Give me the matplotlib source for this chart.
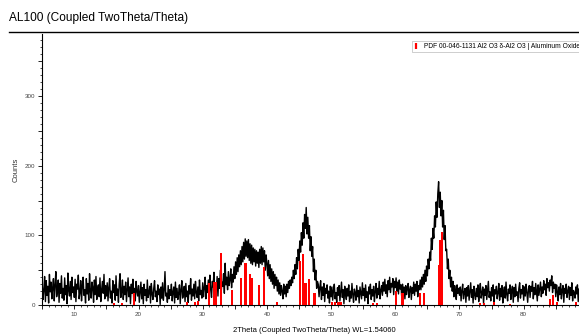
import matplotlib
matplotlib.use("Agg")
import matplotlib.pyplot as plt
from matplotlib.ticker import MultipleLocator, FuncFormatter
from matplotlib.lines import Line2D
import numpy as np

plt.rcParams['font.family'] = ['Liberation Sans', 'DejaVu Sans']

# scan starts at 5 deg 2theta, 8 readings per degree (0.125 deg step)
two_theta_start = 5.0
two_theta_step = 0.125
counts_rows = [
    [30, 8, 22, 41, 5, 35, 14, 27],      # 5
    [3, 44, 19, 33, 9, 25, 38, 6],
    [29, 48, 12, 20, 36, 4, 31, 17],
    [42, 10, 24, 7, 39, 15, 28, 2],
    [46, 21, 13, 34, 8, 40, 18, 26],
    [11, 37, 5, 30, 23, 43, 9, 18],      # 10
    [35, 6, 27, 40, 14, 22, 3, 38],
    [16, 31, 7, 45, 20, 10, 33, 26],
    [4, 36, 15, 41, 8, 24, 29, 12],
    [39, 5, 21, 34, 17, 44, 9, 28],
    [13, 32, 6, 25, 38, 10, 20, 3],      # 15
    [35, 18, 29, 7, 42, 14, 23, 4],
    [31, 45, 11, 19, 36, 8, 27, 15],
    [33, 5, 22, 39, 12, 26, 2, 30],
    [17, 37, 9, 24, 6, 34, 20, 13],
    [28, 4, 19, 33, 9, 25, 2, 30],       # 20
    [14, 22, 6, 36, 11, 18, 27, 3],
    [31, 16, 8, 24, 35, 12, 20, 5],
    [29, 15, 23, 1, 26, 10, 32, 7],
    [21, 48, 13, 17, 4, 28, 9, 22],
    [14, 30, 6, 19, 26, 3, 33, 11],      # 25
    [24, 8, 17, 29, 2, 22, 35, 10],
    [15, 27, 5, 31, 12, 20, 4, 28],
    [16, 38, 7, 23, 13, 30, 9, 34],
    [18, 11, 26, 6, 36, 15, 21, 10],
    [32, 12, 25, 40, 9, 28, 18, 36],     # 30
    [14, 43, 22, 11, 34, 26, 47, 16],
    [30, 20, 41, 13, 38, 24, 50, 18],
    [33, 27, 45, 17, 60, 29, 40, 22],
    [48, 28, 36, 52, 25, 44, 33, 55],
    [38, 62, 44, 68, 48, 72, 55, 78],    # 35
    [58, 84, 62, 90, 66, 95, 70, 92],
    [68, 94, 64, 88, 60, 86, 58, 82],
    [62, 80, 56, 78, 60, 76, 54, 80],
    [60, 84, 58, 82, 62, 78, 50, 72],
    [60, 42, 64, 38, 58, 34, 52, 30],    # 40
    [48, 24, 44, 28, 40, 20, 36, 16],
    [32, 14, 28, 20, 9, 30, 16, 27],
    [12, 30, 18, 34, 24, 36, 28, 40],
    [32, 50, 38, 58, 44, 68, 52, 80],
    [64, 92, 76, 104, 86, 118, 96, 130],   # 45
    [110, 140, 102, 126, 96, 114, 78, 98],
    [70, 84, 48, 66, 36, 50, 24, 34],
    [30, 12, 26, 35, 8, 26, 14, 31],
    [5, 24, 17, 29, 10, 20, 3, 27],
    [12, 26, 7, 21, 30, 9, 18, 4],       # 50
    [25, 14, 28, 6, 19, 33, 11, 22],
    [2, 27, 16, 8, 24, 13, 29, 5],
    [20, 10, 31, 15, 4, 23, 18, 7],
    [28, 12, 21, 3, 26, 17, 9, 32],
    [14, 24, 6, 29, 11, 19, 2, 26],      # 55
    [16, 30, 8, 22, 13, 27, 5, 20],
    [31, 10, 24, 15, 34, 9, 21, 28],
    [14, 33, 20, 37, 17, 29, 12, 35],
    [22, 40, 18, 31, 26, 38, 15, 34],
    [25, 39, 20, 33, 16, 36, 23, 29],    # 60
    [12, 30, 18, 26, 9, 28, 15, 24],
    [31, 11, 22, 27, 8, 25, 17, 33],
    [14, 30, 20, 34, 12, 28, 22, 36],
    [22, 40, 26, 44, 30, 50, 34, 56],
    [42, 66, 52, 76, 64, 96, 80, 110],   # 65
    [96, 128, 112, 148, 126, 160, 177, 140],
    [162, 128, 150, 112, 136, 94, 114, 78],
    [80, 52, 66, 38, 50, 26, 40, 20],
    [34, 12, 28, 20, 8, 29, 17, 24],
    [14, 26, 6, 21, 30, 9, 18, 24],      # 70
    [4, 25, 13, 28, 7, 19, 32, 11],
    [22, 3, 27, 15, 8, 24, 12, 29],
    [5, 20, 31, 10, 17, 26, 2, 23],
    [14, 28, 8, 21, 34, 11, 19, 6],
    [25, 13, 29, 4, 22, 16, 27, 9],      # 75
    [18, 31, 7, 24, 12, 28, 3, 20],
    [26, 10, 33, 15, 6, 23, 17, 29],
    [8, 21, 27, 4, 25, 12, 30, 14],
    [19, 5, 24, 32, 10, 22, 16, 28],
    [7, 26, 13, 30, 18, 4, 23, 28],      # 80
    [11, 27, 20, 34, 9, 25, 15, 31],
    [19, 6, 29, 14, 24, 33, 12, 26],
    [17, 35, 22, 30, 14, 38, 25, 32],
    [20, 36, 28, 42, 18, 33, 24, 30],
    [12, 29, 19, 6, 26, 15, 31, 9],      # 85
    [22, 28, 4, 24, 17, 30, 11, 20],
    [27, 8, 25, 14, 32, 6, 21, 18],
    [10, 26, 16, 29, 5, 23],
]

# PDF 00-046-1131 reference lines
pdf_pos = [16.14, 17.45, 19.36, 27.51, 28.82, 29.32, 30.93, 31.84, 32.04, 32.79,
           34.61, 35.92, 36.67, 37.37, 37.73, 38.82, 39.54, 41.6, 45.16, 45.57,
           46.02, 46.53, 47.43, 50.15, 50.55, 51.16, 51.46, 56.59, 57.19, 60.06,
           61.12, 63.83, 64.44, 66.75, 66.95, 67.25, 73.19, 73.8, 75.41, 77.82,
           84.06, 84.56, 85.17, 88.19]
pdf_int = [3, 3, 17, 4, 5, 6, 31, 33, 33, 75,
           22, 39, 60, 44, 39, 29, 54, 5, 63, 74,
           32, 37, 17, 4, 4, 5, 4, 3, 3, 20,
           17, 17, 18, 58, 94, 105, 3, 3, 5, 2,
           9, 15, 5, 4]

counts = np.concatenate(counts_rows)
two_theta = two_theta_start + two_theta_step * np.arange(len(counts))

fig = plt.figure(figsize=(5.79, 3.36), dpi=100)
ax = fig.add_axes([0.0729, 0.092, 0.9413, 0.807])

ax.plot(two_theta, counts, color='black', lw=1.0, zorder=2)
ax.bar(pdf_pos, pdf_int, width=0.34, color='red', zorder=3)

ax.set_xlim(5, 89.9)
ax.set_ylim(0, 389)

ax.spines['top'].set_visible(False)
ax.spines['right'].set_visible(False)
ax.spines['left'].set_linewidth(0.8)
ax.spines['bottom'].set_linewidth(0.8)

ax.xaxis.set_major_locator(MultipleLocator(5))
ax.xaxis.set_minor_locator(MultipleLocator(1))
ax.yaxis.set_major_locator(MultipleLocator(50))
ax.yaxis.set_minor_locator(MultipleLocator(10))
only_tens = FuncFormatter(lambda v, p: f"{v:.0f}" if round(v) % 10 == 0 else "")
only_hundreds = FuncFormatter(lambda v, p: f"{v:.0f}" if round(v) % 100 == 0 else "")
ax.xaxis.set_major_formatter(only_tens)
ax.yaxis.set_major_formatter(only_hundreds)
ax.tick_params(which='major', length=3, width=0.6, labelsize=4.5,
               labelcolor='#444444', pad=2)
ax.tick_params(which='minor', length=1.5, width=0.5)

ax.set_xlabel('2Theta (Coupled TwoTheta/Theta) WL=1.54060', fontsize=5.5, labelpad=7)
ax.set_ylabel('Counts', fontsize=5.5, labelpad=4, color='#333333')

handle = Line2D([], [], color='red', marker='|', linestyle='None',
                markersize=5, markeredgewidth=1.6)
leg = ax.legend([handle], ['PDF 00-046-1131 Al2 O3 δ-Al2 O3 | Aluminum Oxide'],
                loc='upper left', fontsize=4.75, frameon=True, fancybox=False,
                borderpad=0.3, handlelength=0.8, handletextpad=0.8,
                bbox_to_anchor=(0.672, 0.985))
leg.get_frame().set_edgecolor('#aaaaaa')
leg.get_frame().set_linewidth(0.5)

fig.text(0.016, 0.946, 'AL100 (Coupled TwoTheta/Theta)', fontsize=8.6,
         va='center', ha='left')
fig.add_artist(Line2D([0.0155, 1.0], [0.905, 0.905], color='black', lw=1.0,
                      transform=fig.transFigure))

fig.savefig('out.png', dpi=100)
